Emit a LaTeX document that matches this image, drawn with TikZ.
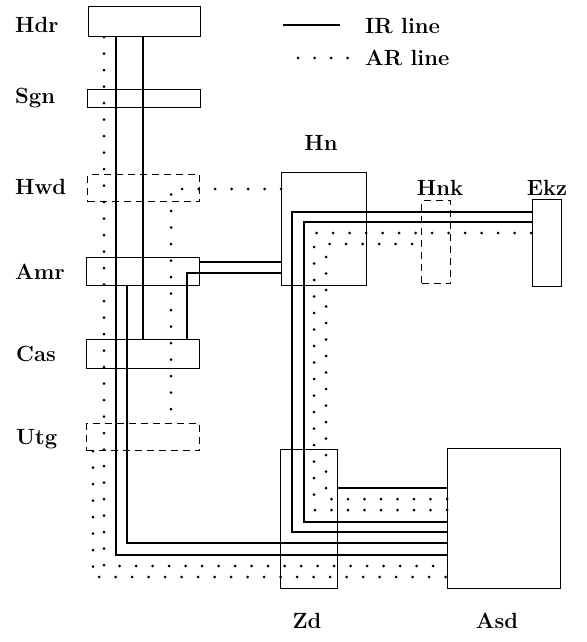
\documentclass[tikz,border=0pt]{standalone}
\begin{document}
\begin{tikzpicture}[x=1pt,y=-1pt]
\tikzset{
 box/.style={draw, line width=1.2pt, inner sep=0pt, anchor=north west},
 dbox/.style={box, dash pattern=on 7pt off 5pt},
 ir/.style={line width=1.2pt},
 ar/.style={line width=3pt, line cap=round, dash pattern=on 0pt off 16.5pt},
 lab/.style={font=\fontsize{22}{26}\selectfont\bfseries, inner sep=0pt}
}
\useasboundingbox (0,0) rectangle (586,642);
% boxes
\node[box,  minimum width=112pt, minimum height=30pt] (Hdr) at (88,6) {};
\node[box,  minimum width=113pt, minimum height=18pt] (Sgn) at (87,89) {};
\node[dbox, minimum width=112pt, minimum height=27pt] (Hwd) at (87,174) {};
\node[box,  minimum width=113pt, minimum height=28pt] (Amr) at (86,257) {};
\node[box,  minimum width=113pt, minimum height=29pt] (Cas) at (86,339) {};
\node[dbox, minimum width=113pt, minimum height=27pt] (Utg) at (86,423) {};
\node[box,  minimum width=85pt,  minimum height=113pt] (Hn) at (281,172) {};
\node[dbox, minimum width=29pt,  minimum height=83pt] (Hnk) at (421,200) {};
\node[box,  minimum width=29pt,  minimum height=87pt] (Ekz) at (532,199) {};
\node[box,  minimum width=57pt,  minimum height=139pt] (Zd) at (280,449) {};
\node[box,  minimum width=113pt, minimum height=140pt] (Asd) at (447,448) {};
% labels
\node[lab, anchor=base west] (tHdr) at (15,33) {Hdr};
\node[lab, anchor=base west] (tSgn) at (15,103) {Sgn};
\node[lab, anchor=base west] (tHwd) at (15,194) {Hwd};
\node[lab, anchor=base west] (tAmr) at (15,279) {Amr};
\node[lab, anchor=base west] (tCas) at (16,361) {Cas};
\node[lab, anchor=base west] (tUtg) at (16,444) {Utg};
\node[lab, anchor=base] (tHn) at (321,150) {Hn};
\node[lab, anchor=base] (tHnk) at (440,195) {Hnk};
\node[lab, anchor=base] (tEkz) at (547,195) {Ekz};
\node[lab, anchor=base] (tZd) at (307,628) {Zd};
\node[lab, anchor=base] (tAsd) at (497,628) {Asd};
% legend
\coordinate (l1a) at (283,25); \coordinate (l1b) at (340,25);
\coordinate (l2a) at (298,58); \coordinate (l2b) at (348,58);
\draw[ir] (l1a) -- (l1b);
\draw[ar] (l2a) -- (l2b);
\node[lab, anchor=base west] (tIR) at (365,34) {IR line};
\node[lab, anchor=base west] (tAR) at (365,66) {AR line};
% IR lines
\draw[ir] (116,0 |- Hdr.south) -- (116,555) -- (116,555 -| Asd.west);
\draw[ir] (143,0 |- Hdr.south) -- (143,0 |- Cas.north);
\draw[ir] (127,0 |- Amr.south) -- (127,543) -- (127,543 -| Asd.west);
\draw[ir] (Amr.east |- 0,262) -- (Hn.west |- 0,262);
\draw[ir] (187,0 |- Cas.north) -- (187,273) -- (Hn.west |- 0,273);
\draw[ir] (Asd.west |- 0,532) -- (292,532) -- (292,212) -- (Ekz.west |- 0,212);
\draw[ir] (Asd.west |- 0,522) -- (304,522) -- (304,222) -- (Ekz.west |- 0,222);
\draw[ir] (Zd.east |- 0,488) -- (Asd.west |- 0,488);
% AR lines
\draw[ar] (104,0 |- Hdr.south) -- (104,566) -- (Asd.west |- 0,566);
\draw[ar] (93,0 |- Utg.south) -- (93,577) -- (Asd.west |- 0,577);
\draw[ar] (Hn.west |- 0,189) -- (171,189) -- (171,0 |- Utg.north);
\draw[ar] (Asd.west |- 0,510) -- (314,510) -- (314,233) -- (Ekz.west |- 0,233);
\draw[ar] (Asd.west |- 0,499) -- (326,499) -- (326,244) -- (Hnk.west |- 0,244);
\end{tikzpicture}
\end{document}
